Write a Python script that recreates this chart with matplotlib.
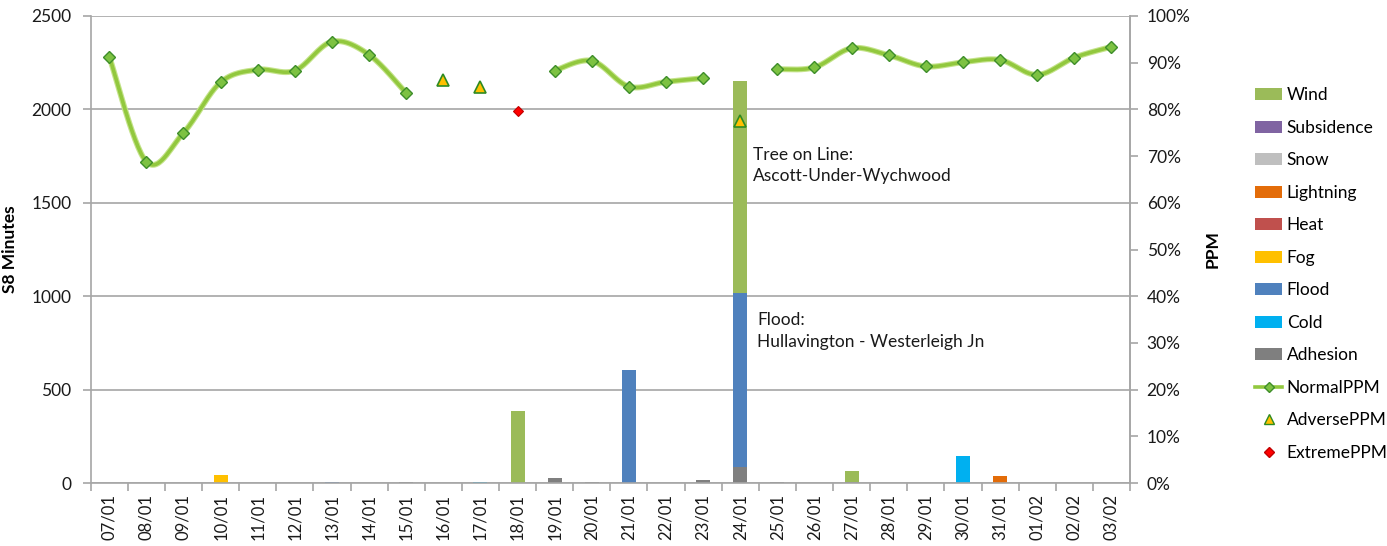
import numpy as np
import matplotlib
matplotlib.use("Agg")
import matplotlib.pyplot as plt
from matplotlib.patches import Patch
from matplotlib.lines import Line2D

plt.rcParams['font.family'] = ['Lato', 'DejaVu Sans']

dates = ["07/01", "08/01", "09/01", "10/01", "11/01", "12/01", "13/01", "14/01",
         "15/01", "16/01", "17/01", "18/01", "19/01", "20/01", "21/01", "22/01",
         "23/01", "24/01", "25/01", "26/01", "27/01", "28/01", "29/01", "30/01",
         "31/01", "01/02", "02/02", "03/02"]
n = len(dates)

adhesion   = [0, 0, 0, 0, 0, 0, 0, 0, 6, 0, 0, 0, 25, 6, 0, 0, 15, 88, 6, 0, 5, 0, 0, 0, 0, 0, 0, 0]
cold       = [0, 0, 0, 0, 0, 0, 0, 0, 0, 0, 6, 0, 0, 0, 0, 0, 0, 0, 0, 0, 0, 0, 0, 145, 0, 0, 0, 0]
flood      = [0, 0, 0, 0, 0, 0, 6, 0, 0, 0, 0, 0, 0, 0, 605, 0, 0, 931, 0, 0, 0, 0, 0, 0, 0, 0, 0, 0]
fog        = [0, 0, 0, 42, 0, 0, 0, 0, 0, 0, 0, 0, 0, 0, 0, 0, 0, 0, 0, 0, 0, 0, 0, 0, 0, 0, 0, 0]
heat       = [0] * 28
lightning  = [0, 0, 0, 0, 0, 0, 0, 0, 0, 0, 0, 0, 0, 0, 0, 0, 0, 0, 0, 0, 0, 0, 0, 0, 37, 0, 0, 0]
snow       = [0] * 28
subsidence = [0] * 28
wind       = [0, 0, 0, 0, 0, 0, 0, 0, 0, 0, 0, 385, 0, 0, 0, 0, 0, 1133, 0, 0, 60, 0, 0, 0, 0, 0, 0, 0]

nan = np.nan
normal_ppm = [91.3, 68.8, 75.0, 85.8, 88.5, 88.3, 94.5, 91.7, 83.5, nan, nan, nan,
              88.3, 90.4, 84.9, 85.9, 86.7, nan, 88.6, 89.0, 93.1, 91.6, 89.2, 90.1,
              90.6, 87.4, 91.1, 93.4]
adverse_ppm = [nan] * 9 + [86.3, 84.7] + [nan] * 6 + [77.6] + [nan] * 10
extreme_ppm = [nan] * 11 + [79.7] + [nan] * 16

series = [("Adhesion", adhesion, "#7F7F7F"),
          ("Cold", cold, "#00B0F0"),
          ("Flood", flood, "#4F81BD"),
          ("Fog", fog, "#FFC000"),
          ("Heat", heat, "#C0504D"),
          ("Lightning", lightning, "#E36C09"),
          ("Snow", snow, "#BFBFBF"),
          ("Subsidence", subsidence, "#8064A2"),
          ("Wind", wind, "#9BBB59")]

fig = plt.figure(figsize=(13.87, 5.46), dpi=100)
ax = fig.add_axes([90.7 / 1387, 63 / 546, (1130 - 90.7) / 1387, (483 - 16) / 546])
x = np.arange(n)

bottom = np.zeros(n)
for name, vals, col in series:
    v = np.array(vals, dtype=float)
    ax.bar(x, v, width=0.38, bottom=bottom, color=col, zorder=2)
    bottom += v

ax.set_xlim(-0.5, n - 0.5)
ax.set_ylim(0, 2500)
ax.set_yticks([0, 500, 1000, 1500, 2000, 2500])
ax.yaxis.grid(True, color="#A6A6A6", linewidth=1.2, zorder=0)
ax.set_axisbelow(True)
ax.set_xticks(x)
ax.set_xticklabels(dates, rotation=90, fontsize=12, color="#1a1a1a")
ax.set_xticks(np.arange(-0.5, n, 1), minor=True)
ax.tick_params(axis='x', which='major', length=0, pad=8)
ax.tick_params(axis='x', which='minor', length=6, color="#A6A6A6", width=1.2)
ax.tick_params(axis='y', length=6, color="#A6A6A6", width=1.2, labelsize=12.5,
               labelcolor="#1a1a1a", pad=8)
ax.spines["top"].set_visible(False)
for s in ["left", "bottom", "right"]:
    ax.spines[s].set_color("#A6A6A6")
    ax.spines[s].set_linewidth(1.2)
ax.set_ylabel("S8 Minutes", fontsize=12.5, fontweight="bold")
ax.yaxis.set_label_coords((18 - 90.7) / 1039.3, 0.5)

ax2 = ax.twinx()
ax2.set_ylim(0, 100)
ax2.set_yticks(np.arange(0, 101, 10))
ax2.set_yticklabels([f"{v}%" for v in range(0, 101, 10)])
ax2.tick_params(axis='y', length=6, color="#A6A6A6", width=1.2, labelsize=12.5,
                labelcolor="#1a1a1a", pad=6)
for s in ["top", "left", "bottom"]:
    ax2.spines[s].set_visible(False)
ax2.spines["right"].set_color("#A6A6A6")
ax2.spines["right"].set_linewidth(1.2)
ax2.set_ylabel("PPM", fontsize=12.5, fontweight="bold", labelpad=10)


def smooth_segment(xs, ys, steps=30):
    xs = np.asarray(xs, float)
    ys = np.asarray(ys, float)
    if len(xs) < 2:
        return xs, ys
    px = np.concatenate([[xs[0]], xs, [xs[-1]]])
    py = np.concatenate([[ys[0]], ys, [ys[-1]]])
    outx, outy = [], []
    for i in range(1, len(px) - 2):
        p0 = np.array([px[i - 1], py[i - 1]])
        p1 = np.array([px[i], py[i]])
        p2 = np.array([px[i + 1], py[i + 1]])
        p3 = np.array([px[i + 2], py[i + 2]])
        c1 = p1 + (p2 - p0) / 6.0
        c2 = p2 - (p3 - p1) / 6.0
        t = np.linspace(0, 1, steps)[:, None]
        pts = ((1 - t) ** 3) * p1 + 3 * ((1 - t) ** 2) * t * c1 + 3 * (1 - t) * t ** 2 * c2 + t ** 3 * p2
        outx.extend(pts[:, 0]); outy.extend(pts[:, 1])
    return np.array(outx), np.array(outy)


npm = np.array(normal_ppm, float)
valid = ~np.isnan(npm)
segs = []
cur = []
for i in range(n):
    if valid[i]:
        cur.append(i)
    else:
        if cur:
            segs.append(cur)
        cur = []
if cur:
    segs.append(cur)

line_col = "#92C83E"
for sgi in segs:
    sx, sy = smooth_segment(x[sgi], npm[sgi])
    ax2.plot(sx, sy, color="#C4E38A", linewidth=4.2, zorder=3, solid_capstyle="round")
    ax2.plot(sx, sy, color=line_col, linewidth=2.6, zorder=3, solid_capstyle="round")

ax2.plot(x, npm, linestyle="none", marker="D", markersize=6.5, markerfacecolor="#7DC242",
         markeredgecolor="#3E8E2A", markeredgewidth=1.0, zorder=4)
ax2.plot(x, adverse_ppm, linestyle="none", marker="^", markersize=8, markerfacecolor="#FFC000",
         markeredgecolor="#2E8B22", markeredgewidth=1.2, zorder=4)
ax2.plot(x, extreme_ppm, linestyle="none", marker="D", markersize=5, markerfacecolor="#FF0000",
         markeredgecolor="#C00000", markeredgewidth=0.8, zorder=4)

ax.text(17.35, 1700, "Tree on Line:\nAscott-Under-Wychwood", fontsize=12.5, ha="left",
        va="center", linespacing=1.45, color="#1a1a1a", zorder=5)
ax.text(17.45, 814, "Flood:\nHullavington - Westerleigh Jn", fontsize=12.5, ha="left",
        va="center", linespacing=1.45, color="#1a1a1a", zorder=5)

handles = [Patch(facecolor=c, edgecolor="none") for _, _, c in series[::-1]]
labels = [nm for nm, _, _ in series[::-1]]
handles += [Line2D([0], [0], color=line_col, linewidth=2.6, marker="D", markersize=5,
                   markerfacecolor="#7DC242", markeredgecolor="#3E8E2A"),
            Line2D([0], [0], linestyle="none", marker="^", markersize=7,
                   markerfacecolor="#FFC000", markeredgecolor="#2E8B22"),
            Line2D([0], [0], linestyle="none", marker="D", markersize=5,
                   markerfacecolor="#FF0000", markeredgecolor="#C00000")]
labels += ["NormalPPM", "AdversePPM", "ExtremePPM"]
fig.legend(handles, labels, loc="center left", bbox_to_anchor=(1246 / 1387, 1 - 274 / 546),
           frameon=False, fontsize=12.5, labelspacing=0.95, handlelength=1.6,
           handleheight=0.7, handletextpad=0.25, borderpad=0)

fig.savefig("out.png", dpi=100)
